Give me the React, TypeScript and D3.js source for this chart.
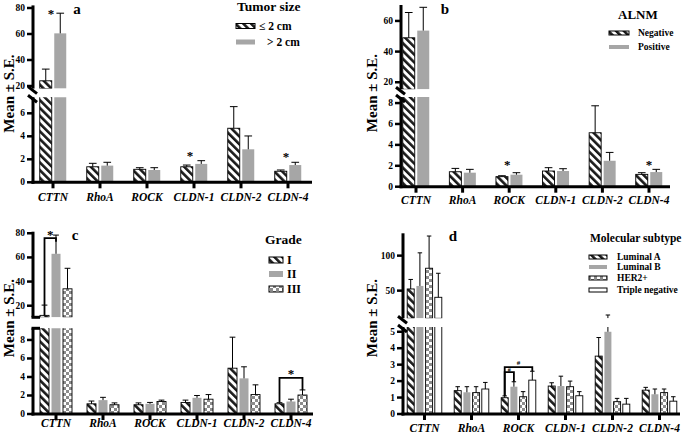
import React from 'react';
import * as d3 from 'd3';

const FONT = '"Liberation Serif", "Times New Roman", Times, serif';

const genes = ['CTTN', 'RhoA', 'ROCK', 'CLDN-1', 'CLDN-2', 'CLDN-4'];

// a: tumor size
const sizeSmall = [24, 1.35, 1.13, 1.35, 4.7, 0.96];
const sizeSmallSe = [9, 0.3, 0.14, 0.15, 1.88, 0.11];
const sizeLarge = [60.5, 1.45, 1.07, 1.6, 2.87, 1.5];
const sizeLargeSe = [15.5, 0.29, 0.2, 0.28, 1.16, 0.24];

// b: ALNM
const alnmNeg = [49, 1.43, 0.96, 1.5, 5.16, 1.18];
const alnmNegSe = [16.5, 0.32, 0.09, 0.32, 2.58, 0.16];
const alnmPos = [53.7, 1.34, 1.15, 1.5, 2.48, 1.4];
const alnmPosSe = [15.2, 0.32, 0.19, 0.22, 0.8, 0.26];

// c: grade
const gradeI = [12, 1.1, 1.0, 1.25, 4.95, 1.1];
const gradeISe = [8.5, 0.3, 0.2, 0.25, 3.35, 0.12];
const gradeII = [63, 1.5, 1.1, 1.75, 3.85, 1.35];
const gradeIISe = [15.5, 0.3, 0.15, 0.25, 1.25, 0.25];
const gradeIII = [34, 1.0, 1.35, 1.6, 2.1, 2.05];
const gradeIIISe = [17, 0.2, 0.15, 0.5, 1.05, 0.55];

// d: molecular subtype
const lumA = [52.4, 1.42, 0.99, 1.7, 3.52, 1.45];
const lumASe = [13.6, 0.24, 0.11, 0.2, 1.13, 0.17];
const lumB = [56.7, 1.32, 1.66, 1.7, 5.0, 1.2];
const lumBSe = [47.3, 0.34, 0.3, 0.6, 10.2, 0.32];
const her2 = [82, 1.3, 1.05, 1.66, 0.75, 1.3];
const her2Se = [46, 0.36, 0.31, 0.34, 0.2, 0.22];
const tripleNeg = [40.5, 1.52, 2.06, 1.11, 0.6, 0.78];
const tripleNegSe = [34.3, 0.4, 0.54, 0.25, 0.35, 0.27];

// significance marks
const starsA = [
  { gene: 'CTTN', seg: 'upper', value: 77, dx: -2 },
  { gene: 'CLDN-1', seg: 'lower', value: 2.5, dx: -4 },
  { gene: 'CLDN-4', seg: 'lower', value: 2.35, dx: -2 },
];
const starsB = [
  { gene: 'ROCK', seg: 'lower', value: 2.3, dx: -2 },
  { gene: 'CLDN-4', seg: 'lower', value: 2.3, dx: 0 },
];
const bracketsC = [
  { gene: 'CTTN', from: 0, to: 1, seg: 'upper', value: 75.9, leftEnd: 12, rightEnd: 73, mark: '*', markValue: 80.5, markSize: 13 },
  { gene: 'CLDN-4', from: 0, to: 2, seg: 'lower', value: 3.9, leftEnd: 1.25, rightEnd: 2.6, mark: '*', markValue: 4.5, markSize: 13 },
];
const bracketsD = [
  { gene: 'ROCK', from: 0, to: 3, seg: 'lower', value: 2.85, leftEnd: 1.1, rightEnd: 2.6, mark: '#', markValue: 3.15, markSize: 7 },
  { gene: 'ROCK', from: 0, to: 1, seg: 'lower', value: 2.55, leftEnd: 1.1, rightEnd: 1.96, mark: '#', markValue: 2.7, markSize: 6 },
];

const GRAY = '#a6a6a6';

type SegName = 'upper' | 'lower';
type Seg = { domain: [number, number]; range: [number, number]; ticks: number[] };
type Series = { name: string; fill: string; stroke: boolean; values: number[]; se: number[] };

const panels: any[] = [
  {
    id: 'a', letter: 'a', letterPos: [77, 9],
    axisX: 33, xEnd: 312, centers: [53, 288], barW: 12, gap: 2.5,
    upper: { domain: [18, 82], range: [88.6, 5.4], ticks: [20, 40, 60, 80] },
    lower: { domain: [0, 7.4], range: [182.3, 97.2], ticks: [0, 2, 4, 6] },
    breakStyle: 'diag', titlePos: [9, 93.5], catY: 197,
    series: [
      { name: '≤ 2 cm', fill: 'url(#hatch)', stroke: true, values: sizeSmall, se: sizeSmallSe },
      { name: '> 2 cm', fill: GRAY, stroke: false, values: sizeLarge, se: sizeLargeSe },
    ],
    legend: { title: 'Tumor size', tx: 237, ty: 6, tsize: 13.5, sx: 236, sw: 19, sh: 5, ys: [26, 42], textX: [259, 267], size: 11.5 },
    stars: starsA, brackets: [],
  },
  {
    id: 'b', letter: 'b', letterPos: [445, 9],
    axisX: 401, xEnd: 670, centers: [416, 649], barW: 12, gap: 2.5,
    upper: { domain: [15.4, 70.4], range: [89.3, 5], ticks: [20, 40, 60] },
    lower: { domain: [0, 8.58], range: [186.7, 97], ticks: [0, 2, 4, 6, 8] },
    breakStyle: 'diag', titlePos: [372, 93], catY: 200,
    series: [
      { name: 'Negative', fill: 'url(#hatch)', stroke: true, values: alnmNeg, se: alnmNegSe },
      { name: 'Positive', fill: GRAY, stroke: false, values: alnmPos, se: alnmPosSe },
    ],
    legend: { title: 'ALNM', tx: 618, ty: 14, tsize: 13, sx: 609, sw: 20, sh: 4, ys: [33, 47], textX: [638, 638], size: 9.5 },
    stars: starsB, brackets: [],
  },
  {
    id: 'c', letter: 'c', letterPos: [75, 235],
    axisX: 33, xEnd: 313, centers: [56, 291], barW: 9, gap: 2.5,
    upper: { domain: [10.4, 81.3], range: [317.3, 231.7], ticks: [20, 40, 60, 80] },
    lower: { domain: [0, 9.26], range: [414, 328.3], ticks: [0, 2, 4, 6, 8] },
    breakStyle: 'flat', titlePos: [9, 318], catY: 423,
    series: [
      { name: 'I', fill: 'url(#hatch)', stroke: true, values: gradeI, se: gradeISe },
      { name: 'II', fill: GRAY, stroke: false, values: gradeII, se: gradeIISe },
      { name: 'III', fill: 'url(#check)', stroke: true, values: gradeIII, se: gradeIIISe },
    ],
    legend: { title: 'Grade', tx: 265, ty: 239, tsize: 13.5, sx: 269, sw: 14, sh: 6, ys: [260, 274, 289], textX: [287, 287, 287], size: 12 },
    stars: [], brackets: bracketsC,
  },
  {
    id: 'd', letter: 'd', letterPos: [453, 236],
    axisX: 403, xEnd: 680, centers: [424.5, 659.5], barW: 7, gap: 2.2,
    upper: { domain: [10.5, 131.9], range: [318.3, 233.3], ticks: [50, 100] },
    lower: { domain: [0, 5.29], range: [414, 327], ticks: [0, 1, 2, 3, 4, 5] },
    breakStyle: 'diag', titlePos: [372, 318], catY: 428,
    series: [
      { name: 'Luminal A', fill: 'url(#hatch)', stroke: true, values: lumA, se: lumASe },
      { name: 'Luminal B', fill: GRAY, stroke: false, values: lumB, se: lumBSe },
      { name: 'HER2+', fill: 'url(#check)', stroke: true, values: her2, se: her2Se },
      { name: 'Triple negative', fill: '#fff', stroke: true, values: tripleNeg, se: tripleNegSe },
    ],
    legend: { title: 'Molecular subtype', tx: 590, ty: 238, tsize: 11.5, sx: 589, sw: 18, sh: 4, ys: [257, 267, 278, 290], textX: [617, 617, 617, 617], size: 9.5 },
    stars: [], brackets: bracketsD,
  },
];

const Panel = ({ p }: { p: any }) => {
  const x = d3.scalePoint<string>().domain(genes).range(p.centers);
  const n = p.series.length;
  const step = p.barW + p.gap;
  const cx = (g: string, i: number) => (x(g) as number) + (i - (n - 1) / 2) * step;
  const scales: Record<SegName, d3.ScaleLinear<number, number>> = {
    upper: d3.scaleLinear().domain(p.upper.domain).range(p.upper.range),
    lower: d3.scaleLinear().domain(p.lower.domain).range(p.lower.range),
  };
  const segNames: SegName[] = ['upper', 'lower'];
  const ax = p.axisX;
  const yBase = p.lower.range[0];
  const uBottom = p.upper.range[0];
  const lTop = p.lower.range[1];

  return (
    <g>
      <defs>
        {segNames.map(s => {
          const seg: Seg = p[s];
          return (
            <clipPath id={`${p.id}-${s}`} key={s}>
              <rect x={ax} y={seg.range[1]} width={p.xEnd - ax} height={seg.range[0] - seg.range[1]} />
            </clipPath>
          );
        })}
      </defs>

      {segNames.map(s => {
        const y = scales[s];
        const base = y.domain()[0];
        const y0 = y(base);
        return (
          <g key={s} clipPath={`url(#${p.id}-${s})`}>
            {p.series.map((ser: Series, i: number) =>
              genes.map((g, j) => {
                const v = ser.values[j];
                const yv = y(v);
                const yt = y(v + ser.se[j]);
                const bx = cx(g, i);
                const capW = p.barW * 0.32;
                return (
                  <g key={`${i}-${j}`}>
                    {yv < y0 && (
                      <rect x={bx - p.barW / 2} y={yv} width={p.barW} height={y0 - yv}
                        fill={ser.fill} stroke={ser.stroke ? '#000' : 'none'} strokeWidth={0.9} />
                    )}
                    {yt < y0 && (
                      <g stroke="#000" strokeWidth={1}>
                        <line x1={bx} x2={bx} y1={Math.min(yv, y0)} y2={yt} />
                        <line x1={bx - capW} x2={bx + capW} y1={yt} y2={yt} />
                      </g>
                    )}
                  </g>
                );
              })
            )}
          </g>
        );
      })}

      {/* y axis, two segments */}
      {segNames.map(s => {
        const seg: Seg = p[s];
        const y = scales[s];
        return (
          <g key={`ax-${s}`}>
            <line x1={ax} x2={ax} y1={seg.range[0] + (s === 'lower' ? 1.5 : 0)} y2={seg.range[1]} stroke="#000" strokeWidth={3} />
            {seg.ticks.map(t => (
              <g key={t}>
                <line x1={ax - 6} x2={ax} y1={y(t)} y2={y(t)} stroke="#000" strokeWidth={2.5} />
                <text x={ax - 8} y={y(t)} textAnchor="end" dominantBaseline="central" fill="#000"
                  fontFamily={FONT} fontWeight="bold" fontSize={9.5}>{t}</text>
              </g>
            ))}
          </g>
        );
      })}

      {/* axis break */}
      {p.breakStyle === 'diag' ? (
        <g stroke="#000" strokeWidth={3}>
          <line x1={ax - 5} y1={uBottom - 2} x2={ax + 4} y2={uBottom + 5} />
          <line x1={ax - 5} y1={lTop - 2} x2={ax + 4} y2={lTop + 5} />
        </g>
      ) : (
        <g stroke="#000" strokeWidth={3}>
          <line x1={ax - 1.5} y1={uBottom} x2={ax + 7} y2={uBottom} />
          <line x1={ax - 1.5} y1={lTop} x2={ax + 7} y2={lTop} />
        </g>
      )}

      {/* x axis */}
      <line x1={ax - 1.5} x2={p.xEnd} y1={yBase} y2={yBase} stroke="#000" strokeWidth={3} />
      {genes.map(g => (
        <g key={g}>
          <line x1={x(g)} x2={x(g)} y1={yBase} y2={yBase + 6} stroke="#000" strokeWidth={3} />
          <text x={x(g)} y={p.catY} textAnchor="middle" dominantBaseline="central" fill="#000"
            fontFamily={FONT} fontWeight="bold" fontStyle="italic" fontSize={11.5}>{g}</text>
        </g>
      ))}

      {/* y title */}
      <text transform={`translate(${p.titlePos[0]},${p.titlePos[1]}) rotate(-90)`} textAnchor="middle" fill="#000"
        dominantBaseline="central" fontFamily={FONT} fontWeight="bold" fontSize={15}>Mean ± S.E.</text>

      {/* panel letter */}
      <text x={p.letterPos[0]} y={p.letterPos[1]} textAnchor="middle" dominantBaseline="central" fill="#000"
        fontFamily={FONT} fontWeight="bold" fontSize={15}>{p.letter}</text>

      {/* stars */}
      {p.stars.map((st: any, k: number) => (
        <text key={k} x={(x(st.gene) as number) + st.dx} y={scales[st.seg as SegName](st.value) + 6} fill="#000"
          textAnchor="middle" fontFamily={FONT} fontWeight="bold" fontSize={13}>*</text>
      ))}

      {/* brackets */}
      {p.brackets.map((b: any, k: number) => {
        const y = scales[b.seg as SegName];
        const x1 = cx(b.gene, b.from);
        const x2 = cx(b.gene, b.to);
        return (
          <g key={k}>
            <path d={`M${x1},${y(b.leftEnd)}V${y(b.value)}H${x2}V${y(b.rightEnd)}`} fill="none" stroke="#000" strokeWidth={1.8} />
            <text x={(x1 + x2) / 2} y={y(b.markValue) + b.markSize * 0.45} textAnchor="middle" fill="#000"
              fontFamily={FONT} fontWeight="bold" fontSize={b.markSize}>{b.mark}</text>
          </g>
        );
      })}

      {/* legend */}
      <text x={p.legend.tx} y={p.legend.ty} dominantBaseline="central" fontFamily={FONT} fill="#000"
        fontWeight="bold" fontSize={p.legend.tsize}>{p.legend.title}</text>
      {p.series.map((ser: Series, i: number) => (
        <g key={ser.name}>
          <rect x={p.legend.sx} y={p.legend.ys[i] - p.legend.sh / 2} width={p.legend.sw} height={p.legend.sh}
            fill={ser.fill} stroke={ser.stroke ? '#000' : 'none'} strokeWidth={1} />
          <text x={p.legend.textX[i]} y={p.legend.ys[i]} dominantBaseline="central" fontFamily={FONT} fill="#000"
            fontWeight="bold" fontSize={p.legend.size}>{ser.name}</text>
        </g>
      ))}
    </g>
  );
};

export default function App() {
  return (
    <svg width={685} height={434} style={{ position: 'absolute', left: 0, top: 0, background: '#fff' }}>
      <defs>
        <pattern id="hatch" patternUnits="userSpaceOnUse" width={5.5} height={5.5} patternTransform="rotate(-45)">
          <rect width={5.5} height={5.5} fill="#fff" />
          <rect width={2.6} height={5.5} fill="#1a1a1a" />
        </pattern>
        <pattern id="check" patternUnits="userSpaceOnUse" width={6} height={6}>
          <rect width={6} height={6} fill="#fff" />
          <rect x={0} y={0} width={3} height={3} fill="#8c8c8c" />
          <rect x={3} y={3} width={3} height={3} fill="#8c8c8c" />
        </pattern>
      </defs>
      {panels.map(p => <Panel key={p.id} p={p} />)}
    </svg>
  );
}
